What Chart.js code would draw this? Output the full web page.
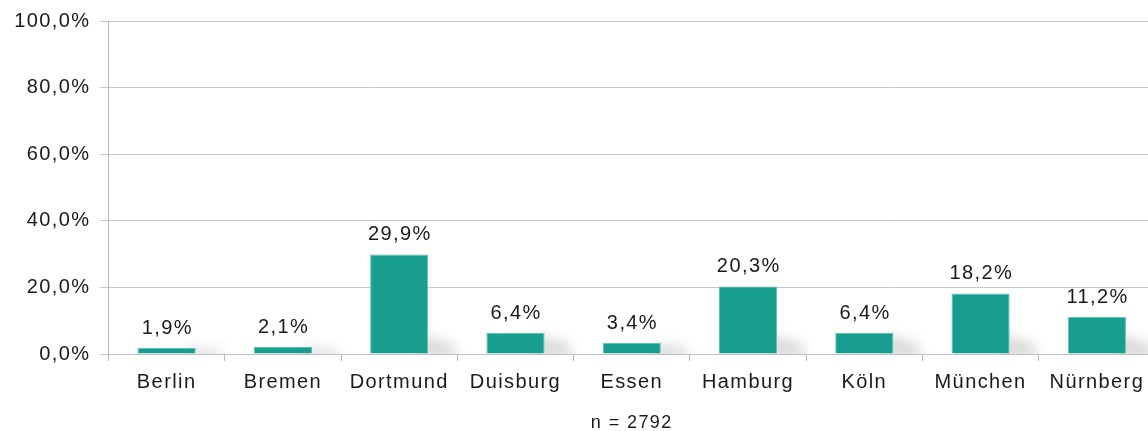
<!doctype html>
<html lang="de">
<head>
<meta charset="utf-8">
<title>Verteilung nach Stadt</title>
<script src="https://cdn.jsdelivr.net/npm/chart.js@4.4.0/dist/chart.umd.min.js"></script>
<style>
  html, body { margin: 0; padding: 0; background: #fff; overflow: hidden; }
</style>
</head>
<body>
<canvas id="chart" width="1160" height="434"></canvas>
<script>
var staedte = ['Berlin', 'Bremen', 'Dortmund', 'Duisburg', 'Essen', 'Hamburg', 'Köln', 'München', 'Nürnberg'];
var anteile = [1.9, 2.1, 29.9, 6.4, 3.4, 20.3, 6.4, 18.2, 11.2];
var yTicks = [0, 20, 40, 60, 80, 100];
var fussnote = 'n = 2792';

function prozent(v) {
  return v.toFixed(1).replace('.', ',') + '%';
}

var schrift = { family: '"Liberation Sans", Arial, sans-serif', size: 20 };
var sperrung = '1.4px';

// etwas gesperrte Schrift wie im Original
var sperren = {
  id: 'sperren',
  beforeUpdate: function (chart) { chart.ctx.letterSpacing = sperrung; },
  beforeDraw: function (chart) { chart.ctx.letterSpacing = sperrung; }
};

// weicher grauer Schatten rechts unten an jedem Balken
var schatten = {
  id: 'schatten',
  beforeDatasetsDraw: function (chart) {
    var ctx = chart.ctx, area = chart.chartArea;
    ctx.save();
    ctx.beginPath();
    ctx.rect(area.left, area.top, area.right - area.left, area.bottom - area.top);
    ctx.clip();
    ctx.filter = 'blur(6px)';
    ctx.fillStyle = 'rgba(0,0,0,0.14)';
    chart.getDatasetMeta(0).data.forEach(function (bar) {
      var r = bar.x + bar.width / 2;
      var h = Math.min(bar.base - bar.y, 20);
      ctx.beginPath();
      ctx.moveTo(r - 8, bar.base + 4);
      ctx.lineTo(r - 8, bar.base - h);
      ctx.lineTo(r + 24, bar.base - h * 0.5);
      ctx.lineTo(r + 30, bar.base + 4);
      ctx.closePath();
      ctx.fill();
    });
    ctx.restore();
  }
};

// Werte über den Balken
var werte = {
  id: 'werte',
  afterDatasetsDraw: function (chart) {
    var ctx = chart.ctx;
    ctx.save();
    ctx.letterSpacing = sperrung;
    ctx.font = schrift.size + 'px ' + schrift.family;
    ctx.fillStyle = '#1a1a1a';
    ctx.textAlign = 'center';
    ctx.textBaseline = 'alphabetic';
    chart.getDatasetMeta(0).data.forEach(function (bar, i) {
      ctx.fillText(prozent(anteile[i]), bar.x + 0.7, bar.y - 14);
    });
    ctx.restore();
  }
};

new Chart(document.getElementById('chart').getContext('2d'), {
  type: 'bar',
  data: {
    labels: staedte,
    datasets: [{
      data: anteile,
      backgroundColor: '#179e8e',
      borderColor: '#5cbfb2',
      borderWidth: 1,
      barPercentage: 0.5,
      categoryPercentage: 1.0
    }]
  },
  options: {
    responsive: false,
    animation: false,
    layout: { padding: { top: 19, right: 5, bottom: 0, left: 0 } },
    plugins: {
      legend: { display: false },
      tooltip: { enabled: false }
    },
    scales: {
      x: {
        offset: true,
        grid: { offset: true, drawOnChartArea: false, color: '#b8b8b8', tickLength: 7 },
        border: { color: '#c0c0c0' },
        ticks: { font: schrift, color: '#1a1a1a', padding: 9, maxRotation: 0, autoSkip: false },
        title: { display: true, text: fussnote, font: { family: schrift.family, size: 18 }, color: '#1a1a1a', padding: { top: 8, bottom: 0 } },
        afterFit: function (s) { s.height = 80; }
      },
      y: {
        min: 0,
        max: 100,
        afterBuildTicks: function (s) { s.ticks = yTicks.map(function (v) { return { value: v }; }); },
        grid: { color: '#c8c8c8', tickLength: 9 },
        border: { color: '#b8b8b8' },
        ticks: { font: schrift, color: '#1a1a1a', padding: 9, callback: function (v) { return prozent(v); } },
        afterFit: function (s) { s.width = 108.5; }
      }
    }
  },
  plugins: [sperren, schatten, werte]
});
</script>
</body>
</html>
